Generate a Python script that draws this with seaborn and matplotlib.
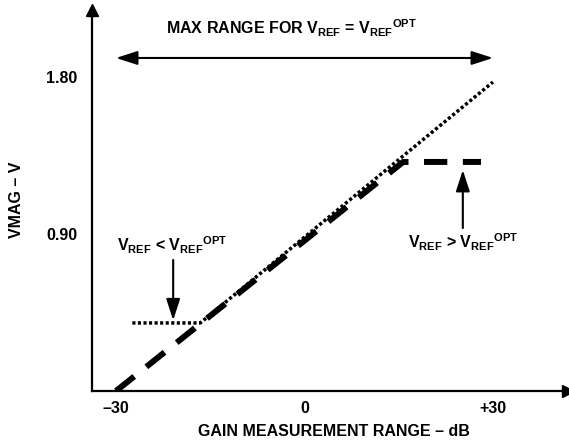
import matplotlib
matplotlib.use("Agg")
import matplotlib.pyplot as plt
import seaborn as sns
import pandas as pd

# Transfer curves: gain (dB) vs VMAG (V)
dashed_gain = [-30.0, 15.7, 28.1]       # V_REF > V_REF(OPT): saturates at the top
dashed_vmag = [0.0, 1.313, 1.313]
dotted_gain = [-27.4, -16.6, 30.0]      # V_REF < V_REF(OPT): floor at the bottom
dotted_vmag = [0.390, 0.390, 1.771]

xtick_vals = [-30, 0, 30]
xtick_labels = ["\u201330", "0", "+30"]
ytick_vals = [0.90, 1.80]
ytick_labels = ["0.90", "1.80"]

sns.set_theme(style="white")
plt.rcParams["font.family"] = ["Liberation Sans", "DejaVu Sans"]
plt.rcParams["font.weight"] = "bold"
plt.rcParams["mathtext.fontset"] = "custom"
plt.rcParams["mathtext.rm"] = "Liberation Sans:bold"
plt.rcParams["mathtext.bf"] = "Liberation Sans:bold"
plt.rcParams["mathtext.it"] = "Liberation Sans:bold"

FS = 11.5

fig = plt.figure(figsize=(5.69, 4.42), dpi=100)
W, H = 569, 442
ax_left, ax_right, ax_top, ax_bottom = 92, 568, 10, 391
ax = fig.add_axes([ax_left / W, (H - ax_bottom) / H,
                   (ax_right - ax_left) / W, (ax_bottom - ax_top) / H])

ax.set_xlim(-33.82, 41.94)
ax.set_ylim(0, 2.184)

df_dash = pd.DataFrame({"gain": dashed_gain, "vmag": dashed_vmag})
df_dot = pd.DataFrame({"gain": dotted_gain, "vmag": dotted_vmag})

sns.lineplot(data=df_dot, x="gain", y="vmag", ax=ax, sort=False, estimator=None,
             color="black", linewidth=2.5, linestyle=(0, (0.9, 0.7)), zorder=3)
sns.lineplot(data=df_dash, x="gain", y="vmag", ax=ax, sort=False, estimator=None,
             color="black", linewidth=4.3, linestyle=(0, (3.9, 2.6)), zorder=2)

# Axes drawn as arrows
for side in ["top", "right"]:
    ax.spines[side].set_visible(False)
for side in ["left", "bottom"]:
    ax.spines[side].set_visible(True)
    ax.spines[side].set_color("black")
    ax.spines[side].set_linewidth(1.6)
ax.plot([1], [0], marker=">", color="black", markersize=8, transform=ax.transAxes,
        clip_on=False)
ax.plot([0], [1], marker="^", color="black", markersize=8, transform=ax.transAxes,
        clip_on=False)

ax.set_xticks(xtick_vals)
ax.set_xticklabels(xtick_labels)
ax.set_yticks(ytick_vals)
ax.set_yticklabels(ytick_labels)
ax.tick_params(axis="both", direction="inout", length=7, width=1.5, color="black",
               labelsize=FS, labelcolor="black")
ax.tick_params(axis="x", pad=4)
ax.tick_params(axis="y", pad=7)
ax.grid(False)

ax.set_xlabel("GAIN MEASUREMENT RANGE \u2013 dB", fontsize=FS, fontweight="bold",
              color="black", va="center")
ax.xaxis.set_label_coords(0.508, -0.1076)
ax.set_ylabel("VMAG \u2013 V", fontsize=FS, fontweight="bold", color="black",
              va="center")
ax.yaxis.set_label_coords(-0.158, 0.501)

arrow_kw = dict(color="black", lw=1.5, shrinkA=0, shrinkB=0, mutation_scale=10)
head = "head_length=1.3,head_width=0.42"

# Full-range double arrow
ax.annotate("", xy=(30, 1.909), xytext=(-30, 1.909),
            arrowprops=dict(arrowstyle="<|-|>," + head, **arrow_kw))
ax.text(-2.0, 2.08, r"MAX RANGE FOR V$_{\mathrm{REF}}$ = V$_{\mathrm{REF}}{}^{\mathrm{OPT}}$",
        ha="center", va="center", fontsize=FS, fontweight="bold", color="black")

# Low reference callout
ax.annotate("", xy=(-20.9, 0.405), xytext=(-20.9, 0.751),
            arrowprops=dict(arrowstyle="-|>," + head, **arrow_kw))
ax.text(-21.0, 0.837, r"V$_{\mathrm{REF}}$ < V$_{\mathrm{REF}}{}^{\mathrm{OPT}}$",
        ha="center", va="center", fontsize=FS, fontweight="bold", color="black")

# High reference callout
ax.annotate("", xy=(25.2, 1.267), xytext=(25.2, 0.934),
            arrowprops=dict(arrowstyle="-|>," + head, **arrow_kw))
ax.text(25.2, 0.854, r"V$_{\mathrm{REF}}$ > V$_{\mathrm{REF}}{}^{\mathrm{OPT}}$",
        ha="center", va="center", fontsize=FS, fontweight="bold", color="black")

fig.savefig("out.png", dpi=100)
